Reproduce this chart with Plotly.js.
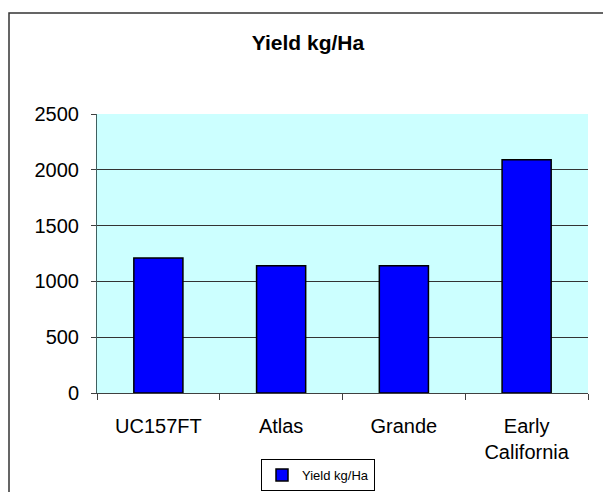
<!DOCTYPE html>
<html>
<head>
<meta charset="utf-8">
<script src="https://cdn.plot.ly/plotly-3.0.1.min.js"></script>
<style>html,body{margin:0;padding:0;background:#fff;}#chart{width:603px;height:492px;}</style>
</head>
<body>
<div id="chart"></div>
<script>
var categories = ["UC157FT", "Atlas", "Grande", "Early<br>California"];
var yieldValues = [1210, 1140, 1140, 2090];
var seriesName = "Yield kg/Ha";
var chartTitle = "Yield kg/Ha";
var yTickValues = [0, 500, 1000, 1500, 2000, 2500];

var font = "Liberation Sans, Arial, sans-serif";

var trace = {
  type: "bar",
  x: categories,
  y: yieldValues,
  name: seriesName,
  width: 0.4,
  marker: {color: "#0000FF", line: {color: "#000000", width: 1.5}},
  showlegend: true
};

var layout = {
  width: 603,
  height: 492,
  margin: {l: 97, r: 15, t: 114, b: 99, pad: 0, autoexpand: false},
  paper_bgcolor: "#FFFFFF",
  plot_bgcolor: "#CCFFFF",
  font: {family: font, color: "#000000", size: 20},
  title: {
    text: chartTitle,
    font: {family: font, size: 21, color: "#000000", weight: "bold"},
    xref: "container", x: 308/603, xanchor: "center",
    yref: "container", y: 1 - 43/492, yanchor: "middle"
  },
  bargap: 0.6,
  xaxis: {
    type: "category",
    tickson: "boundaries",
    ticks: "outside",
    ticklen: 6,
    tickcolor: "#404040",
    tickwidth: 1,
    showline: true,
    linecolor: "#404040",
    linewidth: 1,
    showgrid: false,
    zeroline: false,
    ticklabelstandoff: 15,
    tickfont: {family: font, size: 20},
    fixedrange: true
  },
  yaxis: {
    range: [0, 2500],
    tickvals: yTickValues,
    ticks: "outside",
    ticklen: 5,
    tickcolor: "#404040",
    showline: true,
    linecolor: "#406060",
    linewidth: 1,
    showgrid: true,
    gridcolor: "#333333",
    gridwidth: 1,
    zeroline: false,
    ticklabelstandoff: 8,
    tickfont: {family: font, size: 20},
    fixedrange: true
  },
  showlegend: true,
  legend: {
    x: (261 - 97) / 491, xanchor: "left",
    y: (393 - 459) / 279, yanchor: "top",
    bgcolor: "#FFFFFF",
    bordercolor: "#000000",
    borderwidth: 1,
    font: {family: font, size: 13},
    itemwidth: 30
  },
  shapes: [{
    type: "rect", xref: "paper", yref: "paper",
    x0: (9 - 97) / 491, x1: (720 - 97) / 491,
    y0: (393 - 560) / 279, y1: (393 - 13) / 279,
    line: {color: "#333333", width: 1.5},
    fillcolor: "rgba(0,0,0,0)",
    layer: "above"
  }]
};

Plotly.newPlot("chart", [trace], layout, {displayModeBar: false, staticPlot: true});
</script>
</body>
</html>
